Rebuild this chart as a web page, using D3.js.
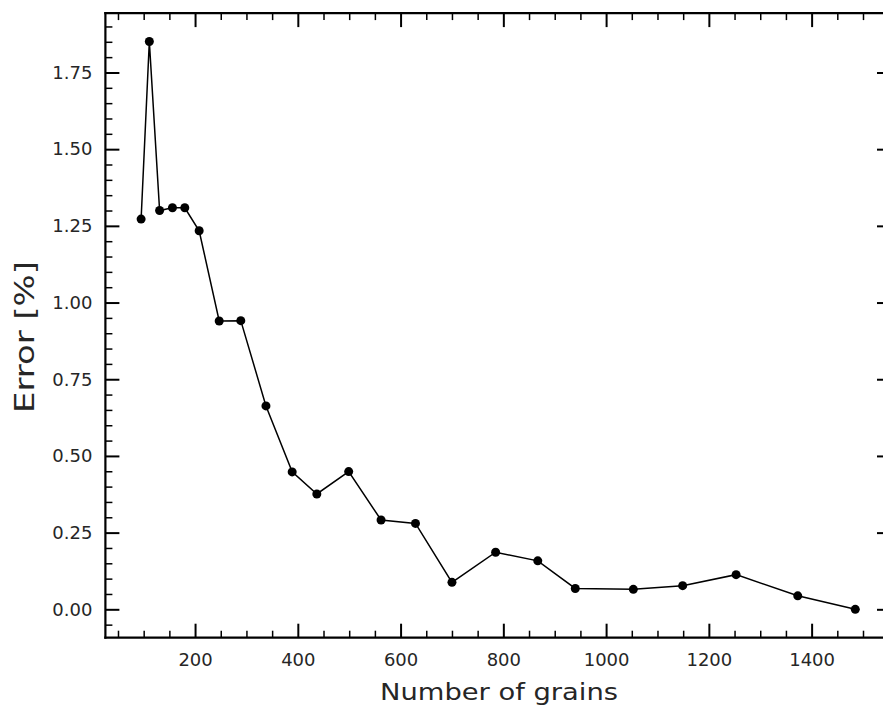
<!DOCTYPE html>
<html>
<head>
<meta charset="utf-8">
<script src="https://cdn.jsdelivr.net/npm/d3@7"></script>
<style>
  html, body { margin: 0; padding: 0; background: #fff; overflow: hidden; }
  svg { display: block; }
  text { font-family: "DejaVu Sans", sans-serif; fill: #262626; }
</style>
</head>
<body>
<svg id="chart" width="883" height="706"></svg>
<script>
// ---- data ----
const grains = [95, 111, 131, 156, 180, 208, 247, 289, 338, 389, 437, 499, 562, 629, 700, 785, 867, 940, 1053, 1149, 1253, 1373, 1485];
const errorPct = [1.272, 1.851, 1.300, 1.309, 1.309, 1.234, 0.940, 0.941, 0.663, 0.448, 0.376, 0.449, 0.291, 0.280, 0.088, 0.186, 0.158, 0.068, 0.065, 0.077, 0.113, 0.044, 0.000];
const xMajorTicks = [200, 400, 600, 800, 1000, 1200, 1400];
const yMajorTicks = [0, 0.25, 0.5, 0.75, 1.0, 1.25, 1.5, 1.75];
const xLabel = "Number of grains";
const yLabel = "Error [%]";

(function () {
const svg = d3.select("#chart");
const mL = 105.4, mR = 891, mT = 13.1, mB = 637.7;

const xMin = d3.min(grains), xMax = d3.max(grains);
const yMin = d3.min(errorPct), yMax = d3.max(errorPct);
const xPad = (xMax - xMin) * 0.05, yPad = (yMax - yMin) * 0.05;

const x = d3.scaleLinear().domain([xMin - xPad, xMax + xPad]).range([mL, mR]);
const y = d3.scaleLinear().domain([yMin - yPad, yMax + yPad]).range([mB, mT]);

const xMinor = d3.range(50, 1600, 50).filter(v => v >= x.domain()[0] && v <= x.domain()[1] && !xMajorTicks.includes(v));
const yMinor = d3.range(-0.05, 2.0, 0.05).map(v => Math.round(v * 100) / 100)
  .filter(v => v >= y.domain()[0] && v <= y.domain()[1] && !yMajorTicks.some(t => Math.abs(t - v) < 1e-9));

const fmtY = d3.format(".2f");

function addAxis(axisGen, transform, showLabels) {
  const g = svg.append("g").attr("transform", transform).call(axisGen);
  g.selectAll(".domain").remove();
  g.selectAll(".tick line").attr("stroke", "#000");
  if (!showLabels) g.selectAll(".tick text").remove();
  return g;
}

// bottom
const bMaj = addAxis(d3.axisBottom(x).tickValues(xMajorTicks).tickSize(-14).tickPadding(16).tickFormat(d3.format("d")),
  `translate(0,${mB})`, true);
bMaj.selectAll(".tick line").attr("stroke-width", 2);
bMaj.selectAll(".tick text").attr("font-size", 18).attr("fill", "#262626");
addAxis(d3.axisBottom(x).tickValues(xMinor).tickSize(-7), `translate(0,${mB})`, false)
  .selectAll(".tick line").attr("stroke-width", 1.5);
// top
addAxis(d3.axisTop(x).tickValues(xMajorTicks).tickSize(-14), `translate(0,${mT})`, false)
  .selectAll(".tick line").attr("stroke-width", 2);
addAxis(d3.axisTop(x).tickValues(xMinor).tickSize(-7), `translate(0,${mT})`, false)
  .selectAll(".tick line").attr("stroke-width", 1.5);
// left
const lMaj = addAxis(d3.axisLeft(y).tickValues(yMajorTicks).tickSize(-14).tickPadding(13).tickFormat(fmtY),
  `translate(${mL},0)`, true);
lMaj.selectAll(".tick line").attr("stroke-width", 2);
lMaj.selectAll(".tick text").attr("font-size", 18).attr("fill", "#262626");
addAxis(d3.axisLeft(y).tickValues(yMinor).tickSize(-7), `translate(${mL},0)`, false)
  .selectAll(".tick line").attr("stroke-width", 1.5);
// right: only the major ticks reach into the visible canvas
addAxis(d3.axisRight(y).tickValues(yMajorTicks).tickSize(-14), `translate(${mR},0)`, false)
  .selectAll(".tick line").attr("stroke-width", 2);

// frame (spines); the right spine falls outside the visible canvas
const spines = [
  [mL, mT, mR, mT],
  [mL, mB, mR, mB],
  [mL, mT, mL, mB]
];
svg.append("g").selectAll("line").data(spines).join("line")
  .attr("x1", d => d[0]).attr("y1", d => d[1])
  .attr("x2", d => d[2]).attr("y2", d => d[3])
  .attr("stroke", "#000").attr("stroke-width", 2.2)
  .attr("stroke-linecap", "square");

// line + markers
const pts = grains.map((g, i) => ({ g, e: errorPct[i] }));
svg.append("path")
  .datum(pts)
  .attr("fill", "none")
  .attr("stroke", "#000")
  .attr("stroke-width", 1.5)
  .attr("d", d3.line().x(d => x(d.g)).y(d => y(d.e)));

svg.append("g").selectAll("circle")
  .data(pts).join("circle")
  .attr("cx", d => x(d.g)).attr("cy", d => y(d.e))
  .attr("r", 4.5).attr("fill", "#000");

// axis labels
svg.append("text")
  .attr("x", 380).attr("y", 700)
  .attr("font-size", 23)
  .attr("textLength", 238)
  .attr("lengthAdjust", "spacingAndGlyphs")
  .text(xLabel);

svg.append("text")
  .attr("transform", `translate(33.5, 413) rotate(-90)`)
  .attr("font-size", 26)
  .attr("textLength", 152)
  .attr("lengthAdjust", "spacingAndGlyphs")
  .text(yLabel);
})();
</script>
</body>
</html>
